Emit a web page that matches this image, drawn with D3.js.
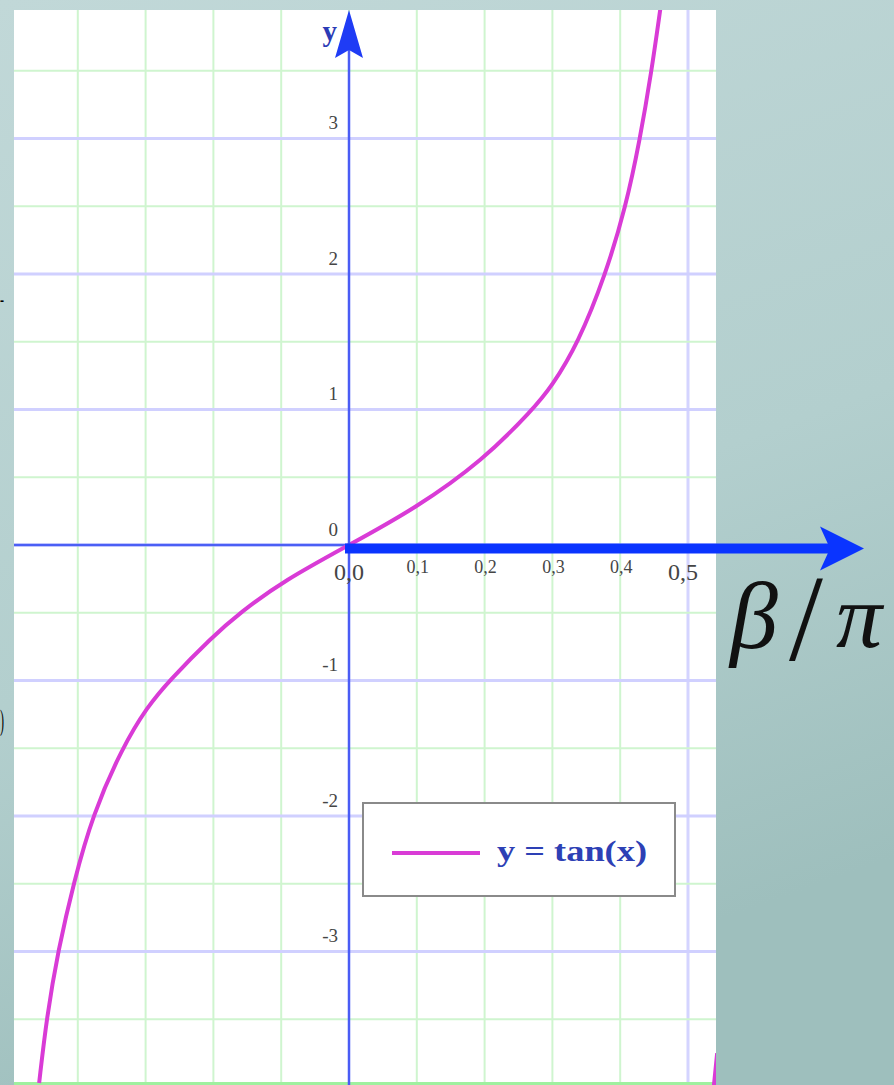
<!DOCTYPE html>
<html>
<head>
<meta charset="utf-8">
<script src="https://cdn.jsdelivr.net/npm/d3@7"></script>
<style>
  html, body { margin: 0; padding: 0; overflow: hidden; }
  svg { display: block; }
</style>
</head>
<body>
<svg id="chart" width="894" height="1085"></svg>
<script>
// Curve (x in beta/pi, y = tan), mostly where it crosses grid lines
const curveX = [-0.457, -0.446, -0.429, -0.406, -0.378, -0.335, -0.297, -0.265, -0.202, -0.161, -0.095, 0,
                0.098, 0.198, 0.271, 0.299, 0.338, 0.378, 0.408, 0.429, 0.446, 0.459];
const curveY = [-3.97, -3.49, -2.99, -2.49, -1.99, -1.50, -1.19, -1.00, -0.68, -0.50, -0.26, 0,
                0.27, 0.627, 1.00, 1.17, 1.49, 1.99, 2.49, 2.99, 3.49, 3.95];
// start of the next branch, just visible at the bottom right
const branchX = [0.537, 0.540, 0.543];
const branchY = [-4.05, -3.9, -3.75];

// Tick labels
const yTicks = [3, 2, 1, 0, -1, -2, -3];
const xTicks = [0, 0.1, 0.2, 0.3, 0.4, 0.5];
const xTickLabels = ['0,0', '0,1', '0,2', '0,3', '0,4', '0,5'];
const legendLabel = 'y = tan(x)';
const axisLabel = ['β', '/', 'π'];

const svg = d3.select('#chart');
const width = 894, height = 1085;

// Plot box (white paper)
const plot = { left: 14, right: 716, top: 10, bottom: 1085 };

const x = d3.scaleLinear().domain([-0.5, 0.5]).range([10, 688]);
const y = d3.scaleLinear().domain([-4, 4]).range([1087, 3]);

// Slide background
const defs = svg.append('defs');
const grad = defs.append('linearGradient')
  .attr('id', 'bg').attr('x1', 0).attr('y1', 0).attr('x2', 0.3).attr('y2', 1);
grad.append('stop').attr('offset', '0%').attr('stop-color', '#c1d8d8');
grad.append('stop').attr('offset', '60%').attr('stop-color', '#b3cfce');
grad.append('stop').attr('offset', '100%').attr('stop-color', '#9ebfbd');
svg.append('rect').attr('width', width).attr('height', height).attr('fill', 'url(#bg)');

defs.append('clipPath').attr('id', 'clip')
  .append('rect')
  .attr('x', plot.left).attr('y', plot.top)
  .attr('width', plot.right - plot.left).attr('height', plot.bottom - plot.top);

// Bits of slide text peeking in at the left edge
svg.append('text').attr('x', 0).attr('y', 306)
  .attr('textLength', 4).attr('lengthAdjust', 'spacingAndGlyphs')
  .style('font', '20px "Liberation Serif"').text('-');
svg.append('text').attr('x', 0).attr('y', 730)
  .attr('textLength', 4).attr('lengthAdjust', 'spacingAndGlyphs')
  .style('font', '30px "Liberation Serif"').text(')');

svg.append('rect')
  .attr('x', plot.left).attr('y', plot.top)
  .attr('width', plot.right - plot.left).attr('height', plot.bottom - plot.top)
  .attr('fill', '#ffffff');

const g = svg.append('g').attr('clip-path', 'url(#clip)');

// Grid: vertical every 0.1, horizontal every 0.5
const vGrid = d3.range(-5, 6).map(d => d / 10);
const hGrid = d3.range(-8, 9).map(d => d / 2);
const isHalf = d => Math.abs(Math.abs(d) - 0.5) < 1e-9;

g.selectAll('line.vgrid')
  .data(vGrid)
  .join('line')
  .attr('class', 'vgrid')
  .attr('x1', d => x(d)).attr('x2', d => x(d))
  .attr('y1', plot.top).attr('y2', plot.bottom)
  .style('stroke', d => isHalf(d) ? '#d4d4ff' : '#cff5cf')
  .style('stroke-width', d => isHalf(d) ? 3 : 2);

g.selectAll('line.hgrid')
  .data(hGrid)
  .join('line')
  .attr('class', 'hgrid')
  .attr('x1', plot.left).attr('x2', plot.right)
  .attr('y1', d => y(d)).attr('y2', d => y(d))
  .style('stroke', d => Number.isInteger(d) ? '#d0d0ff' : '#cff5cf')
  .style('stroke-width', d => Number.isInteger(d) ? 3 : 2);

// bottom edge line
g.append('line')
  .attr('x1', plot.left).attr('x2', plot.right)
  .attr('y1', plot.bottom - 1.5).attr('y2', plot.bottom - 1.5)
  .style('stroke', '#9ff09f').style('stroke-width', 3);

// Axes of the original plot
g.append('line')
  .attr('x1', plot.left).attr('x2', x(0))
  .attr('y1', y(0)).attr('y2', y(0))
  .style('stroke', '#4b5ff5').style('stroke-width', 2.5);

svg.append('line')
  .attr('x1', x(0)).attr('x2', x(0))
  .attr('y1', plot.bottom).attr('y2', 50)
  .style('stroke', '#4a5cf5').style('stroke-width', 2.5);

// y arrow head
svg.append('path')
  .attr('d', `M${x(0)},${plot.top} L${x(0) + 14},${58} L${x(0)},${50} L${x(0) - 14},${58} Z`)
  .style('fill', '#1f3cf5');

// y label
svg.append('text')
  .attr('x', 337).attr('y', 41)
  .style('text-anchor', 'end')
  .style('font', 'bold 29px "Liberation Serif"')
  .style('fill', '#2b3bb6')
  .text('y');

// y tick labels
svg.selectAll('text.ytick')
  .data(yTicks)
  .join('text')
  .attr('class', 'ytick')
  .attr('x', 338)
  .attr('y', d => y(d) - 16)
  .attr('dy', '0.35em')
  .style('text-anchor', 'end')
  .style('font', '19px "Liberation Serif"')
  .style('fill', '#454545')
  .text(d => d);

// Curve: a B-spline smooths out the reading error between points
const line = d3.line()
  .x(d => x(d[0]))
  .y(d => y(d[1]))
  .curve(d3.curveBasis);

g.append('path')
  .datum(d3.zip(curveX, curveY))
  .attr('d', line)
  .style('fill', 'none')
  .style('stroke', '#d93bd6')
  .style('stroke-width', 4);

g.append('path')
  .datum(d3.zip(branchX, branchY))
  .attr('d', line)
  .style('fill', 'none')
  .style('stroke', '#d93bd6')
  .style('stroke-width', 4);

// x tick labels
const bigTick = i => i === 0 || i === 5;
svg.selectAll('text.xtick')
  .data(xTicks)
  .join('text')
  .attr('class', 'xtick')
  .attr('x', (d, i) => x(d) + (i === 0 ? 0 : i === 5 ? -5 : 1))
  .attr('y', (d, i) => bigTick(i) ? 572 : 567)
  .attr('dy', '0.35em')
  .style('text-anchor', 'middle')
  .style('font', (d, i) => bigTick(i) ? '24px "Liberation Serif"' : '18px "Liberation Serif"')
  .style('fill', '#454545')
  .text((d, i) => xTickLabels[i]);

// Big overlay arrow (beta/pi axis)
const arrowY = y(0) + 3.5;
svg.append('line')
  .attr('x1', x(0) - 4).attr('x2', 830)
  .attr('y1', arrowY).attr('y2', arrowY)
  .style('stroke', '#0a34ff').style('stroke-width', 10);
svg.append('path')
  .attr('d', `M864,${arrowY} L820,${arrowY - 22} L830,${arrowY} L820,${arrowY + 22} Z`)
  .style('fill', '#0a34ff');

// beta / pi label
const lab = svg.append('g').style('fill', '#111');
lab.append('text')
  .attr('x', 730).attr('y', 648)
  .style('font', 'italic 96px "Liberation Serif"')
  .text(axisLabel[0]);
lab.append('text')
  .attr('x', 789).attr('y', 660)
  .style('font', '122px "Liberation Serif"')
  .text(axisLabel[1]);
lab.append('text')
  .attr('x', 836).attr('y', 647)
  .style('font', 'italic 92px "Liberation Serif"')
  .text(axisLabel[2]);

// Legend
const legend = svg.append('g');
legend.append('rect')
  .attr('x', 363).attr('y', 803)
  .attr('width', 312).attr('height', 93)
  .style('fill', '#ffffff')
  .style('stroke', '#8a8a8a')
  .style('stroke-width', 2);
legend.append('line')
  .attr('x1', 392).attr('x2', 480)
  .attr('y1', 853).attr('y2', 853)
  .style('stroke', '#d93bd6').style('stroke-width', 4);
legend.append('text')
  .attr('x', 497).attr('y', 861)
  .attr('textLength', 150).attr('lengthAdjust', 'spacingAndGlyphs')
  .style('font', 'bold 29px "Liberation Serif"')
  .style('fill', '#2d40b5')
  .text(legendLabel);
</script>
</body>
</html>
